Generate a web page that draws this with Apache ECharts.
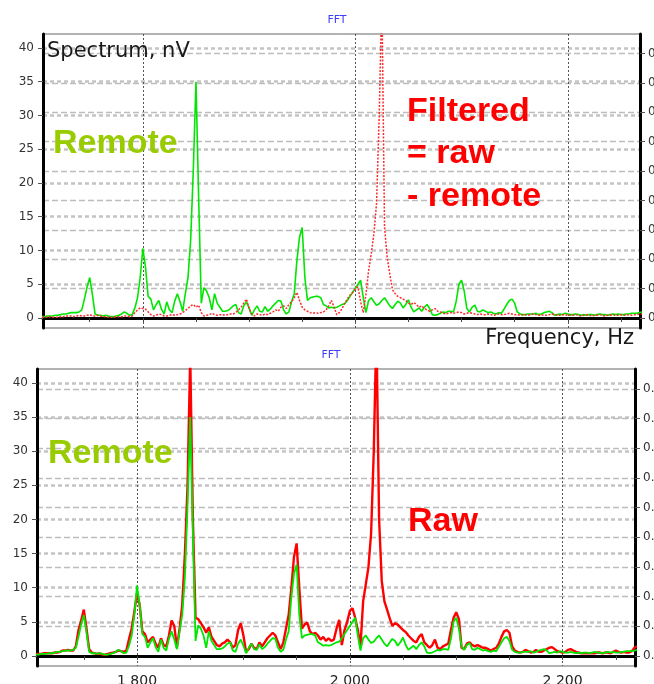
<!DOCTYPE html>
<html>
<head>
<meta charset="utf-8">
<script src="https://cdn.jsdelivr.net/npm/echarts@6/dist/echarts.min.js"></script>
<style>
  html, body { margin: 0; padding: 0; background: #fff; }
  #chart { width: 654px; height: 684px; }
</style>
</head>
<body>
<div id="chart"></div>
<script>
// frequency bins, Hz
const freqs = [
  1705, 1707.5, 1710, 1712.5, 1715, 1717.5, 1720, 1722.5, 1725, 1727.5, 1730, 1732.5, 1735, 1737.5, 1740, 1742.5, 1745, 1747.5, 1750, 1752.5,
  1755, 1757.5, 1760, 1762.5, 1765, 1767.5, 1770, 1772.5, 1775, 1777.5, 1780, 1782.5, 1785, 1787.5, 1790, 1792.5, 1795, 1797.5, 1800, 1802.5,
  1805, 1807.5, 1810, 1812.5, 1815, 1817.5, 1820, 1822.5, 1825, 1827.5, 1830, 1832.5, 1835, 1837.5, 1840, 1842.5, 1845, 1847.5, 1850, 1852.5,
  1855, 1857.5, 1860, 1862.5, 1865, 1867.5, 1870, 1872.5, 1875, 1877.5, 1880, 1882.5, 1885, 1887.5, 1890, 1892.5, 1895, 1897.5, 1900, 1902.5,
  1905, 1907.5, 1910, 1912.5, 1915, 1917.5, 1920, 1922.5, 1925, 1927.5, 1930, 1932.5, 1935, 1937.5, 1940, 1942.5, 1945, 1947.5, 1950, 1952.5,
  1955, 1957.5, 1960, 1962.5, 1965, 1967.5, 1970, 1972.5, 1975, 1977.5, 1980, 1982.5, 1985, 1987.5, 1990, 1992.5, 1995, 1997.5, 2000, 2002.5,
  2005, 2007.5, 2010, 2012.5, 2015, 2017.5, 2020, 2022.5, 2025, 2027.5, 2030, 2032.5, 2035, 2037.5, 2040, 2042.5, 2045, 2047.5, 2050, 2052.5,
  2055, 2057.5, 2060, 2062.5, 2065, 2067.5, 2070, 2072.5, 2075, 2077.5, 2080, 2082.5, 2085, 2087.5, 2090, 2092.5, 2095, 2097.5, 2100, 2102.5,
  2105, 2107.5, 2110, 2112.5, 2115, 2117.5, 2120, 2122.5, 2125, 2127.5, 2130, 2132.5, 2135, 2137.5, 2140, 2142.5, 2145, 2147.5, 2150, 2152.5,
  2155, 2157.5, 2160, 2162.5, 2165, 2167.5, 2170, 2172.5, 2175, 2177.5, 2180, 2182.5, 2185, 2187.5, 2190, 2192.5, 2195, 2197.5, 2200, 2202.5,
  2205, 2207.5, 2210, 2212.5, 2215, 2217.5, 2220, 2222.5, 2225, 2227.5, 2230, 2232.5, 2235, 2237.5, 2240, 2242.5, 2245, 2247.5, 2250, 2252.5,
  2255, 2257.5, 2260, 2262.5, 2265, 2267.5, 2270
];

// spectrum of the remote channel, nV
const remote = [
  0.2, 0.2, 0.3, 0.3, 0.3, 0.4, 0.4, 0.5, 0.6, 0.6, 0.7, 0.8, 0.8, 0.8, 0.9, 1.2, 2.8, 4.6, 6.0, 3.5,
  0.6, 0.4, 0.4, 0.3, 0.4, 0.3, 0.2, 0.2, 0.3, 0.4, 0.6, 0.9, 0.7, 0.4, 0.5, 1.5, 3.0, 6.0, 10.3, 7.5,
  3.2, 2.8, 1.2, 2.0, 2.6, 1.3, 0.6, 2.4, 1.2, 0.8, 2.5, 3.6, 2.4, 1.0, 3.6, 6.0, 11.5, 22.0, 35.0, 18.0,
  2.2, 4.5, 4.0, 3.0, 1.2, 3.6, 2.2, 1.6, 1.0, 1.0, 1.1, 1.4, 1.8, 2.0, 0.8, 0.6, 1.8, 2.4, 1.5, 0.4,
  1.2, 1.8, 1.0, 0.9, 1.7, 1.0, 1.3, 1.8, 2.2, 2.6, 2.5, 1.2, 0.6, 0.9, 2.4, 3.6, 8.5, 12.0, 13.4, 6.0,
  2.6, 3.0, 3.1, 3.2, 3.2, 3.0, 2.0, 1.8, 1.5, 1.6, 1.5, 1.6, 1.8, 2.0, 2.1, 2.6, 3.2, 3.8, 4.4, 5.0,
  5.6, 3.0, 0.8, 2.6, 3.0, 2.4, 1.9, 2.1, 2.6, 3.0, 2.4, 1.8, 1.4, 2.0, 2.5, 2.2, 1.5, 2.0, 2.7, 1.6,
  0.9, 1.2, 1.5, 1.0, 1.6, 2.0, 1.4, 0.5, 0.4, 0.5, 0.7, 0.9, 0.8, 1.0, 1.0, 0.9, 2.5, 5.0, 5.6, 4.0,
  1.4, 0.9, 1.6, 1.9, 1.0, 0.9, 1.2, 1.0, 0.8, 0.9, 0.7, 0.6, 0.8, 0.7, 1.3, 2.0, 2.6, 2.8, 2.2, 0.9,
  0.6, 0.5, 0.5, 0.6, 0.6, 0.6, 0.7, 0.5, 0.6, 0.8, 0.9, 1.0, 0.8, 0.4, 0.5, 0.6, 0.5, 0.7, 0.6, 0.5,
  0.5, 0.6, 0.5, 0.4, 0.5, 0.4, 0.5, 0.5, 0.4, 0.5, 0.6, 0.5, 0.5, 0.4, 0.5, 0.6, 0.5, 0.6, 0.5, 0.5,
  0.6, 0.6, 0.7, 0.7, 0.7, 0.8, 0.9
];

// filtered = raw - remote (top panel, red dotted)
const filtered = [
  0.1, 0.1, 0.1, 0.2, 0.1, 0.1, 0.1, 0.2, 0.2, 0.3, 0.3, 0.3, 0.2, 0.3, 0.4, 0.3, 0.3, 0.4, 0.5, 0.3,
  0.3, 0.4, 0.3, 0.2, 0.2, 0.1, 0.1, 0.1, 0.2, 0.2, 0.2, 0.3, 0.3, 0.2, 0.3, 0.8, 1.2, 1.5, 1.4, 1.3,
  0.9, 0.5, 0.3, 0.4, 0.6, 0.5, 0.3, 0.3, 0.4, 0.5, 0.4, 0.5, 0.6, 0.8, 1.1, 1.4, 1.8, 2.0, 1.6, 1.9,
  0.8, 0.3, 0.4, 0.5, 0.7, 0.5, 0.4, 0.5, 0.5, 0.4, 0.5, 0.6, 0.6, 0.8, 1.2, 1.6, 2.2, 2.8, 1.4, 0.6,
  0.3, 0.6, 0.5, 0.4, 0.6, 0.5, 0.7, 0.9, 1.2, 1.0, 1.6, 1.8, 1.4, 2.0, 2.4, 3.0, 3.8, 2.6, 1.6, 1.2,
  1.0, 0.8, 0.7, 0.8, 0.7, 0.8, 0.9, 1.2, 1.8, 2.6, 1.6, 0.5, 0.8, 1.4, 2.2, 2.8, 3.4, 3.8, 4.3, 4.6,
  2.4, 0.8, 3.5, 7.0, 9.5, 12.5, 17.0, 30.0, 48.0, 13.5, 9.0, 6.5, 4.2, 3.6, 3.2, 3.0, 2.8, 2.6, 2.2, 2.0,
  2.3, 2.0, 1.6, 1.8, 1.4, 1.2, 1.0, 1.2, 1.4, 1.0, 0.9, 0.7, 0.6, 0.7, 0.8, 0.7, 0.8, 0.9, 0.8, 0.6,
  0.7, 0.8, 0.7, 0.6, 0.5, 0.6, 0.5, 0.5, 0.6, 0.5, 0.4, 0.5, 0.6, 0.5, 0.5, 0.6, 0.7, 0.6, 0.5, 0.5,
  0.4, 0.5, 0.5, 0.4, 0.5, 0.6, 0.5, 0.4, 0.5, 0.4, 0.4, 0.5, 0.6, 0.5, 0.4, 0.4, 0.5, 0.4, 0.5, 0.4,
  0.4, 0.5, 0.4, 0.3, 0.4, 0.5, 0.4, 0.3, 0.4, 0.4, 0.5, 0.4, 0.3, 0.4, 0.4, 0.5, 0.4, 0.4, 0.5, 0.4,
  0.4, 0.5, 0.4, 0.5, 0.5, 0.6, 0.6
];

// raw spectrum (bottom panel, red)
const raw = [
  0.3, 0.3, 0.3, 0.4, 0.4, 0.4, 0.4, 0.5, 0.5, 0.6, 0.8, 0.8, 0.9, 0.8, 0.8, 1.4, 3.8, 5.2, 6.8, 4.0,
  1.0, 0.5, 0.4, 0.3, 0.4, 0.2, 0.2, 0.3, 0.4, 0.5, 0.6, 0.8, 0.7, 0.6, 0.8, 2.5, 4.0, 6.5, 9.2, 7.5,
  3.6, 3.2, 2.0, 2.4, 2.8, 1.8, 1.2, 2.6, 1.6, 1.4, 3.0, 5.2, 4.4, 1.2, 4.0, 7.5, 15.0, 25.0, 44.0, 20.0,
  5.6, 5.4, 4.8, 4.2, 3.4, 4.2, 2.8, 2.2, 1.6, 1.4, 1.8, 2.0, 2.4, 2.0, 1.2, 1.6, 3.8, 4.8, 3.0, 0.6,
  1.0, 1.8, 1.2, 1.0, 2.0, 1.4, 2.0, 2.6, 3.0, 3.4, 3.0, 2.0, 1.0, 2.0, 4.0, 6.0, 9.9, 14.5, 16.5, 10.0,
  4.0, 4.6, 4.9, 3.6, 3.2, 3.4, 3.0, 2.4, 2.8, 2.2, 2.6, 2.2, 2.4, 4.0, 5.3, 1.6, 3.8, 5.0, 6.6, 7.0,
  5.6, 3.8, 1.4, 8.0, 10.5, 13.0, 18.0, 30.0, 48.0, 20.0, 11.0, 8.0, 6.8, 5.5, 4.4, 4.8, 4.6, 4.2, 3.8, 3.5,
  3.0, 2.6, 2.2, 2.0, 2.8, 3.2, 2.0, 1.6, 1.2, 1.6, 2.4, 1.2, 1.0, 1.4, 1.6, 1.8, 3.8, 5.6, 6.4, 5.4,
  1.2, 1.0, 1.8, 2.0, 1.6, 1.4, 1.6, 1.4, 1.2, 1.2, 1.0, 0.8, 1.0, 1.2, 1.8, 2.8, 3.6, 3.8, 3.4, 1.4,
  0.8, 0.6, 0.5, 0.6, 0.9, 0.7, 0.5, 0.6, 0.9, 0.6, 0.6, 0.8, 1.0, 1.2, 1.3, 1.0, 0.7, 0.6, 0.5, 0.6,
  0.9, 1.0, 0.8, 0.6, 0.5, 0.4, 0.4, 0.4, 0.4, 0.4, 0.4, 0.5, 0.5, 0.4, 0.5, 0.5, 0.4, 0.6, 0.8, 0.6,
  0.5, 0.6, 0.5, 0.5, 0.7, 1.2, 1.4
];

const xTicks = [1750, 1800, 1850, 1900, 1950, 2000, 2050, 2100, 2150, 2200, 2250];
const xLabels = [1800, 2000, 2200];
const yTicks = [0, 5, 10, 15, 20, 25, 30, 35, 40];
const rightTicks = [0, 0.1, 0.2, 0.3, 0.4, 0.5, 0.6, 0.7, 0.8, 0.9];

const chart = echarts.init(document.getElementById('chart'));

const tickFont = { fontFamily: 'DejaVu Sans', fontSize: 12, color: '#333' };

function panelAxes(gridIndex, showLabels, yMin, yMax, rMin, rMax) {
  const xBase = {
    type: 'value', gridIndex: gridIndex, min: 1706, max: 2268
  };
  const xs = [
    Object.assign({}, xBase, {
      position: 'bottom',
      axisLine: { show: true, lineStyle: { color: '#000', width: 3 } },
      axisTick: { show: true, customValues: xTicks, length: 4, lineStyle: { color: '#444' } },
      axisLabel: {
        show: showLabels, customValues: xLabels, margin: 8,
        fontFamily: 'DejaVu Sans', fontSize: 14, color: '#222',
        formatter: v => String(v).replace(/(\d)(\d{3})$/, '$1 $2')
      },
      splitLine: { show: false }
    }),
    Object.assign({}, xBase, {
      position: 'top',
      axisLine: { show: false },
      axisTick: { show: false, customValues: xLabels },
      axisLabel: { show: false },
      splitLine: { show: true, lineStyle: { color: '#555', width: 1, type: [2, 2] } }
    })
  ];
  const ys = [
    {
      type: 'value', gridIndex: gridIndex, position: 'left', min: yMin, max: yMax,
      axisLine: { show: true, lineStyle: { color: '#000', width: 3 } },
      axisTick: { show: true, customValues: yTicks, length: 5, lineStyle: { color: '#555' } },
      axisLabel: Object.assign({ customValues: yTicks, margin: 9 }, tickFont),
      splitLine: { show: true, lineStyle: { color: '#c4c4c4', width: 2.5, type: [4, 3] } }
    },
    {
      type: 'value', gridIndex: gridIndex, position: 'right', min: rMin, max: rMax,
      axisLine: { show: true, lineStyle: { color: '#000', width: 3 } },
      axisTick: { show: true, customValues: rightTicks, length: 5, lineStyle: { color: '#555' } },
      axisLabel: Object.assign({ customValues: rightTicks, margin: 8,
        formatter: v => v.toFixed(1) }, tickFont),
      splitLine: { show: true, lineStyle: { color: '#bdbdbd', width: 1.3, type: [6, 3] } }
    }
  ];
  return { xs, ys };
}

const topAxes = panelAxes(0, false, -1.48, 42.07, -0.034, 0.966);
const botAxes = panelAxes(1, true, -1.47, 42.05, -0.034, 0.967);

function pairs(vals) {
  return freqs.map((f, i) => [f, vals[i]]);
}

function txt(x, y, text, size, color, bold, align) {
  return {
    type: 'text', x: x, y: y, z: 100,
    style: {
      text: text, fill: color, align: align || 'left', verticalAlign: 'middle',
      font: (bold ? 'bold ' : '') + size + 'px ' + (bold ? '"Liberation Sans", Arial' : '"DejaVu Sans"')
    }
  };
}

chart.setOption({
  animation: false,
  backgroundColor: '#fff',
  grid: [
    { left: 43, right: 14, top: 34, height: 294, outerBoundsMode: 'none', containLabel: false,
      show: true, borderColor: '#666', borderWidth: 1 },
    { left: 37, right: 19, top: 369, height: 297, outerBoundsMode: 'none', containLabel: false,
      show: true, borderColor: '#666', borderWidth: 1 }
  ],
  xAxis: topAxes.xs.concat(botAxes.xs),
  yAxis: topAxes.ys.concat(botAxes.ys),
  series: [
    {
      name: 'Remote', type: 'line', xAxisIndex: 0, yAxisIndex: 0, data: pairs(remote),
      showSymbol: false, lineStyle: { color: '#00e600', width: 1.6 }, z: 3
    },
    {
      name: 'Filtered', type: 'line', xAxisIndex: 0, yAxisIndex: 0, data: pairs(filtered),
      showSymbol: false, lineStyle: { color: '#ff2a2a', width: 1.5, type: [2, 1.5] }, z: 4
    },
    {
      name: 'Raw', type: 'line', xAxisIndex: 2, yAxisIndex: 2, data: pairs(raw),
      showSymbol: false, lineStyle: { color: '#ff0000', width: 2.4 }, z: 3
    },
    {
      name: 'Remote', type: 'line', xAxisIndex: 2, yAxisIndex: 2, data: pairs(remote),
      showSymbol: false, lineStyle: { color: '#00e600', width: 1.8 }, z: 4
    }
  ],
  graphic: [
    txt(337, 20, 'FFT', 11, '#3d3dff', false, 'center'),
    txt(331, 355, 'FFT', 11, '#3d3dff', false, 'center'),
    txt(47, 52, 'Spectrum, nV', 21, '#1a1a1a', false),
    txt(634, 339, 'Frequency, Hz', 21, '#1a1a1a', false, 'right'),
    txt(53, 144, 'Remote', 34, '#99cc00', true),
    txt(407, 112, 'Filtered', 34, '#ff0000', true),
    txt(407, 154, '= raw', 34, '#ff0000', true),
    txt(407, 197, '- remote', 34, '#ff0000', true),
    txt(48, 454, 'Remote', 34, '#99cc00', true),
    txt(408, 522, 'Raw', 34, '#ff0000', true)
  ]
});
</script>
</body>
</html>
